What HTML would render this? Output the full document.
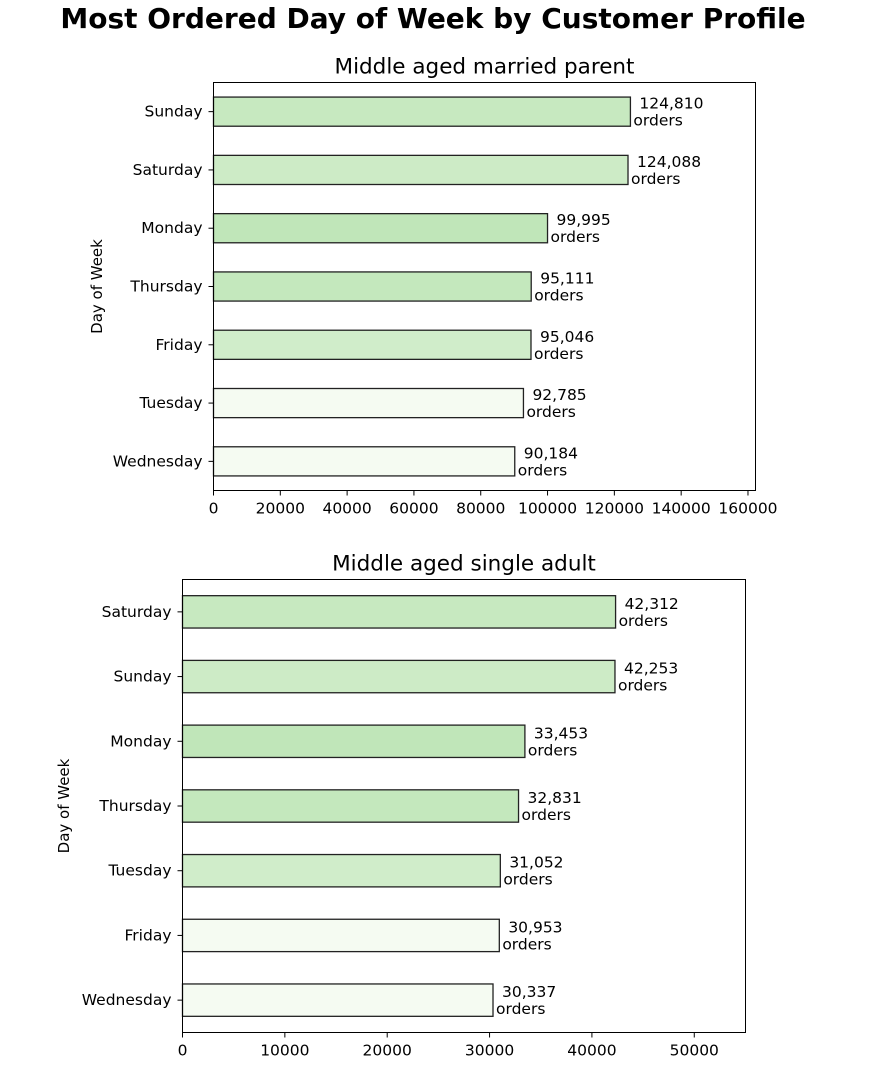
<!DOCTYPE html>
<html><head><meta charset="utf-8"><style>
body{margin:0;background:#fff;font-family:"Liberation Sans","DejaVu Sans",sans-serif}
svg text{font-family:"DejaVu Sans","Liberation Sans",sans-serif;fill:#000}
</style></head><body>
<svg id="c" width="871" height="1076">
<text x="433" y="28" font-size="28" font-weight="bold" text-anchor="middle">Most Ordered Day of Week by Customer Profile</text>
</svg>
<script>
const days1=["Sunday","Saturday","Monday","Thursday","Friday","Tuesday","Wednesday"];
const vals1=[124810,124088,99995,95111,95046,92785,90184];
const cols1=["#c7e9c0","#cdebc6","#c0e6b9","#c4e8bd","#d0edca","#f5fbf2","#f5fbf2"];
const ticks1=[0,20000,40000,60000,80000,100000,120000,140000,160000];
const days2=["Saturday","Sunday","Monday","Thursday","Tuesday","Friday","Wednesday"];
const vals2=[42312,42253,33453,32831,31052,30953,30337];
const cols2=["#c7e9c0","#cdebc6","#c0e6b9","#c4e8bd","#d0edca","#f5fbf2","#f5fbf2"];
const ticks2=[0,10000,20000,30000,40000,50000];
const svg=document.getElementById('c');
const NS='http://www.w3.org/2000/svg';
function mk(t,a,txt){const e=document.createElementNS(NS,t);for(const k in a)e.setAttribute(k,a[k]);if(txt!==undefined)e.textContent=txt;svg.appendChild(e);return e;}
function panel(days,vals,cols,ticks,L,T,R,B,title,ylx,key){
  const xmax=Math.max(...vals)*1.3;
  const x=v=>L+(R-L)*v/xmax;
  const step=(B-T)/days.length;
  const y=i=>T+step*(i+0.5);
  const bh=step*0.5;
  let e=mk('text',{x:(L+R)/2,y:T-9,'font-size':21.5,'text-anchor':'middle'},title);
  
  
  days.forEach((d,i)=>{
    let r=mk('rect',{x:L,y:y(i)-bh/2,width:x(vals[i])-L,height:bh,fill:cols[i],stroke:'#222','stroke-width':1.3});
    
    
    let t=mk('text',{x:L-5-6,y:y(i)+5,'font-size':15.5,'text-anchor':'end'},d);
    
    
    mk('line',{x1:L-5,x2:L,y1:y(i),y2:y(i),stroke:'#000'});
    let v=mk('text',{x:x(vals[i])+9,y:y(i)-3,'font-size':15.5},vals[i].toLocaleString('en-US'));
    
    
    let o=mk('text',{x:x(vals[i])+3,y:y(i)+14,'font-size':15.5},'orders');
    
    
  });
  ticks.forEach(tv=>{
    mk('line',{x1:x(tv),x2:x(tv),y1:B,y2:B+5,stroke:'#000'});
    let t=mk('text',{x:x(tv),y:B+23,'font-size':15.5,'text-anchor':'middle'},String(tv));
    
    
  });
  let f=mk('rect',{x:L,y:T,width:R-L,height:B-T,fill:'none',stroke:'#000','stroke-width':1});
  
  
  let yl=mk('text',{x:0,y:0,'font-size':15,'text-anchor':'middle',transform:`translate(${ylx},${(T+B)/2}) rotate(-90)`},'Day of Week');
  
  
}
panel(days1,vals1,cols1,ticks1,213.5,82.5,755.5,490.5,'Middle aged married parent',102,'top');
panel(days2,vals2,cols2,ticks2,182.5,579.5,745.5,1032.5,'Middle aged single adult',69,'bottom');
</script>
</body></html>
